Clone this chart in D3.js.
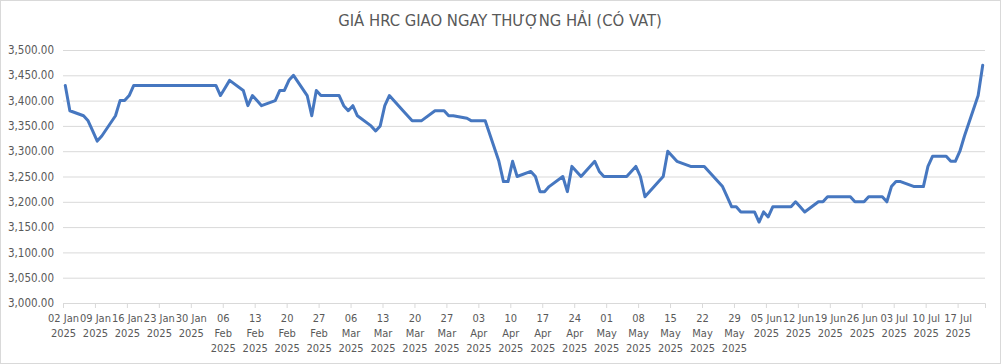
<!DOCTYPE html>
<html>
<head>
<meta charset="utf-8">
<script src="https://cdn.jsdelivr.net/npm/d3@7"></script>
<style>
  body { margin: 0; background: #fff; }
  text { font-family: 'Liberation Sans Narrow', 'DejaVu Sans Condensed', sans-serif; fill: #595959; }
</style>
</head>
<body>
<svg id="chart"></svg>
<script>
const width = 1001;
const height = 364;
const margin = { top: 50, right: 16, bottom: 61, left: 63 };

const title = 'GIÁ HRC GIAO NGAY THƯỢNG HẢI (CÓ VAT)';

// trading days and spot price
const dates = [
  '2025-01-02', '2025-01-03', '2025-01-06', '2025-01-07', '2025-01-08', '2025-01-09', '2025-01-10',
  '2025-01-13', '2025-01-14', '2025-01-15', '2025-01-16', '2025-01-17',
  '2025-01-20', '2025-01-21', '2025-01-22', '2025-01-23', '2025-01-24',
  '2025-01-27', '2025-01-28', '2025-01-29', '2025-01-30', '2025-01-31',
  '2025-02-03', '2025-02-04', '2025-02-05', '2025-02-06', '2025-02-07',
  '2025-02-10', '2025-02-11', '2025-02-12', '2025-02-13', '2025-02-14',
  '2025-02-17', '2025-02-18', '2025-02-19', '2025-02-20', '2025-02-21',
  '2025-02-24', '2025-02-25', '2025-02-26', '2025-02-27', '2025-02-28',
  '2025-03-03', '2025-03-04', '2025-03-05', '2025-03-06', '2025-03-07',
  '2025-03-10', '2025-03-11', '2025-03-12', '2025-03-13', '2025-03-14',
  '2025-03-17', '2025-03-18', '2025-03-19', '2025-03-20', '2025-03-21',
  '2025-03-24', '2025-03-25', '2025-03-26', '2025-03-27', '2025-03-28',
  '2025-03-31', '2025-04-01', '2025-04-02', '2025-04-03', '2025-04-04',
  '2025-04-07', '2025-04-08', '2025-04-09', '2025-04-10', '2025-04-11',
  '2025-04-14', '2025-04-15', '2025-04-16', '2025-04-17', '2025-04-18',
  '2025-04-21', '2025-04-22', '2025-04-23', '2025-04-24', '2025-04-25',
  '2025-04-28', '2025-04-29', '2025-04-30', '2025-05-01', '2025-05-02',
  '2025-05-05', '2025-05-06', '2025-05-07', '2025-05-08', '2025-05-09',
  '2025-05-12', '2025-05-13', '2025-05-14', '2025-05-15', '2025-05-16',
  '2025-05-19', '2025-05-20', '2025-05-21', '2025-05-22', '2025-05-23',
  '2025-05-26', '2025-05-27', '2025-05-28', '2025-05-29', '2025-05-30',
  '2025-06-02', '2025-06-03', '2025-06-04', '2025-06-05', '2025-06-06',
  '2025-06-09', '2025-06-10', '2025-06-11', '2025-06-12', '2025-06-13',
  '2025-06-16', '2025-06-17', '2025-06-18', '2025-06-19', '2025-06-20',
  '2025-06-23', '2025-06-24', '2025-06-25', '2025-06-26', '2025-06-27',
  '2025-06-30', '2025-07-01', '2025-07-02', '2025-07-03', '2025-07-04',
  '2025-07-07', '2025-07-08', '2025-07-09', '2025-07-10', '2025-07-11',
  '2025-07-14', '2025-07-15', '2025-07-16', '2025-07-17', '2025-07-18',
  '2025-07-21', '2025-07-22'
];
const prices = [
  3430, 3380, 3370, 3360, 3340, 3320, 3330,
  3370, 3400, 3400, 3410, 3430,
  3430, 3430, 3430, 3430, 3430,
  3430, 3430, 3430, 3430, 3430,
  3430, 3430, 3410, 3425, 3440,
  3420, 3390, 3410, 3400, 3390,
  3400, 3420, 3420, 3440, 3450,
  3410, 3370, 3420, 3410, 3410,
  3410, 3390, 3380, 3390, 3370,
  3350, 3340, 3350, 3390, 3410,
  3380, 3370, 3360, 3360, 3360,
  3380, 3380, 3380, 3370, 3370,
  3365, 3360, 3360, 3360, 3360,
  3280, 3240, 3240, 3280, 3250,
  3260, 3250, 3220, 3220, 3230,
  3250, 3220, 3270, 3260, 3250,
  3280, 3260, 3250, 3250, 3250,
  3250, 3260, 3270, 3250, 3210,
  3240, 3250, 3300, 3290, 3280,
  3270, 3270, 3270, 3270, 3260,
  3230, 3210, 3190, 3190, 3180,
  3180, 3160, 3180, 3170, 3190,
  3190, 3190, 3200, 3190, 3180,
  3200, 3200, 3210, 3210, 3210,
  3210, 3200, 3200, 3200, 3210,
  3210, 3200, 3230, 3240, 3240,
  3230, 3230, 3230, 3270, 3290,
  3290, 3280, 3280, 3300, 3330,
  3410, 3470
];

const yTicks = [3000, 3050, 3100, 3150, 3200, 3250, 3300, 3350, 3400, 3450, 3500];
const wrapMonths = ['Feb', 'Mar', 'Apr', 'May']; // labels that Excel breaks onto three lines

const parseDate = d3.utcParse('%Y-%m-%d');
const data = dates.map((d, i) => ({ date: parseDate(d), value: prices[i] }));

const svg = d3.select('#chart')
    .attr('width', width)
    .attr('height', height);

svg.append('rect')
    .attr('x', 0.5).attr('y', 0.5)
    .attr('width', width - 1).attr('height', height - 1)
    .attr('fill', '#fff')
    .attr('stroke', '#d9d9d9');

svg.append('text')
    .attr('x', 500)
    .attr('y', 26)
    .attr('text-anchor', 'middle')
    .style('font-size', '16.5px')
    .text(title);

const firstDay = data[0].date;
const endDay = d3.utcDay.offset(data[data.length - 1].date, 1);

const xScale = d3.scaleUtc()
    .domain([firstDay, endDay])
    .range([margin.left, width - margin.right]);

const yScale = d3.scaleLinear()
    .domain([3000, 3500])
    .range([height - margin.bottom, margin.top]);

// gridlines + y labels
const yAxis = d3.axisLeft(yScale)
    .tickValues(yTicks)
    .tickFormat(d3.format(',.2f'))
    .tickSize(-(width - margin.left - margin.right))
    .tickPadding(9);

svg.append('g')
    .attr('transform', `translate(${margin.left},0)`)
    .call(yAxis)
    .call(g => g.select('.domain').remove())
    .call(g => g.selectAll('.tick line').attr('stroke', '#d9d9d9'))
    .call(g => g.selectAll('.tick text').style('font-size', '11.5px').attr('fill', '#595959'));

// x axis, weekly ticks
const xTicks = d3.utcThursday.range(firstDay, d3.utcDay.offset(endDay, 1));
const fmtDay = d3.utcFormat('%d');
const fmtMon = d3.utcFormat('%b');
const fmtYear = d3.utcFormat('%Y');

const xAxis = d3.axisBottom(xScale)
    .tickValues(xTicks)
    .tickSize(5)
    .tickFormat('');

const xg = svg.append('g')
    .attr('transform', `translate(0,${height - margin.bottom})`)
    .call(xAxis)
    .call(g => g.select('.domain').attr('stroke', '#d9d9d9'))
    .call(g => g.selectAll('.tick line').attr('stroke', '#d9d9d9'));

xg.selectAll('.tick').each(function (d) {
    const lines = wrapMonths.includes(fmtMon(d))
        ? [fmtDay(d), fmtMon(d), fmtYear(d)]
        : [fmtDay(d) + ' ' + fmtMon(d), fmtYear(d)];
    const t = d3.select(this).append('text')
        .attr('text-anchor', 'middle')
        .style('font-size', '11px')
        .attr('fill', '#595959');
    lines.forEach((s, i) => {
        t.append('tspan').attr('x', 0).attr('y', 19 + i * 15).text(s);
    });
});

// price line, points sit in the middle of each day
const line = d3.line()
    .x(d => xScale(d3.utcHour.offset(d.date, 12)))
    .y(d => yScale(d.value));

svg.append('path')
    .datum(data)
    .attr('fill', 'none')
    .attr('stroke', '#4677c0')
    .attr('stroke-width', 3)
    .attr('stroke-linejoin', 'round')
    .attr('stroke-linecap', 'round')
    .attr('d', line);
</script>
</body>
</html>
